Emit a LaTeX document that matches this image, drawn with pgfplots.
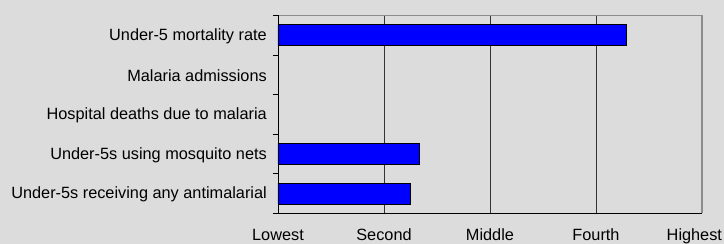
\documentclass[border=0pt]{standalone}
\usepackage{fontspec}
\setmainfont{Liberation Sans}
\usepackage{pgfplots}
\pgfplotsset{compat=1.18}
\definecolor{bg}{RGB}{220,220,220}
\definecolor{barblue}{RGB}{0,0,255}
\begin{document}
\begin{tikzpicture}[x=1pt,y=1pt]
\fill[bg] (0,0) rectangle (724,244);
\useasboundingbox (0,0) rectangle (724,244);
\begin{axis}[
 scale only axis, width=424pt, height=198pt,
 at={(278pt,30.7pt)}, anchor=south west,
 xmin=0, xmax=4, ymin=-0.5, ymax=4.5,
 xtick={0,1,2,3,4},
 xticklabels={Lowest,Second,Middle,Fourth,\makebox[40pt][r]{Highest}},
 ytick={0,1,2,3,4},
 yticklabels={Under-5s receiving any antimalarial, Under-5s using mosquito nets, Hospital deaths due to malaria, Malaria admissions, Under-5 mortality rate},
 minor ytick={-0.5,0.5,...,4.5},
 major tick length=0pt, minor tick length=5pt,
 tick align=outside, xtick pos=bottom, ytick pos=left,
 minor tick style={black, line width=0.8pt},
 xmajorgrids, grid style={black!80, line width=0.8pt},
 axis line style={draw=none},
 tick label style={font=\fontsize{16.3}{19}\selectfont},
 yticklabel style={anchor=east, inner sep=0pt, xshift=-11pt, yshift=-1pt},
 xticklabel style={anchor=north, inner sep=0pt, yshift=-15.5pt},
 clip=false,
]
\addplot[xbar, bar width=21pt, fill=barblue, draw=black, line width=0.8pt] coordinates {(1.245,0) (1.333,1) (3.29,4)};
\draw[black!45, line width=1.2pt] (rel axis cs:0,1) -- (rel axis cs:1,1) -- (rel axis cs:1,0);
\draw[black, line width=0.8pt] (rel axis cs:0,1) -- (rel axis cs:0,0);
\draw[black, line width=0.8pt] ([xshift=-5pt]rel axis cs:0,0) -- (rel axis cs:1,0);
\end{axis}
\end{tikzpicture}
\end{document}
